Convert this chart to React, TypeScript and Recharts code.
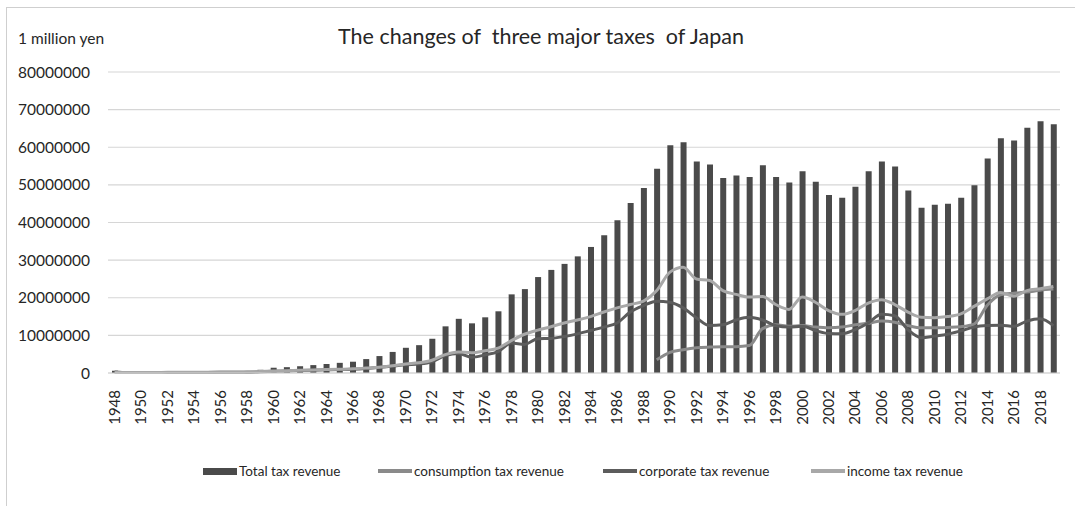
import {
  ComposedChart,
  Bar,
  Line,
  XAxis,
  YAxis,
  CartesianGrid,
} from "recharts";

const years = [
  1948, 1949, 1950, 1951, 1952, 1953, 1954, 1955, 1956, 1957, 1958, 1959,
  1960, 1961, 1962, 1963, 1964, 1965, 1966, 1967, 1968, 1969, 1970, 1971,
  1972, 1973, 1974, 1975, 1976, 1977, 1978, 1979, 1980, 1981, 1982, 1983,
  1984, 1985, 1986, 1987, 1988, 1989, 1990, 1991, 1992, 1993, 1994, 1995,
  1996, 1997, 1998, 1999, 2000, 2001, 2002, 2003, 2004, 2005, 2006, 2007,
  2008, 2009, 2010, 2011, 2012, 2013, 2014, 2015, 2016, 2017, 2018, 2019,
];

// 1 million yen
const totalTax = [
  600000, 150000, 150000, 180000, 200000, 220000, 250000, 250000, 280000, 320000, 350000, 850000,
  1400000, 1550000, 1800000, 2100000, 2400000, 2700000, 3000000, 3700000, 4500000, 5600000, 6700000, 7400000,
  9100000, 12400000, 14400000, 13200000, 14800000, 16400000, 20900000, 22300000, 25500000, 27400000, 29000000, 31000000,
  33500000, 36600000, 40600000, 45200000, 49200000, 54300000, 60500000, 61300000, 56200000, 55400000, 51800000, 52500000,
  52100000, 55200000, 52100000, 50600000, 53600000, 50800000, 47300000, 46600000, 49500000, 53600000, 56200000, 54900000,
  48500000, 43900000, 44700000, 45000000, 46600000, 49900000, 57000000, 62400000, 61800000, 65200000, 66900000, 66100000,
];

const consumptionTax = [
  null, null, null, null, null, null, null, null, null, null, null, null,
  null, null, null, null, null, null, null, null, null, null, null, null,
  null, null, null, null, null, null, null, null, null, null, null, null,
  null, null, null, null, null, 3500000, 5500000, 6200000, 6700000, 6900000, 7000000, 7000000,
  7300000, 11800000, 12800000, 12400000, 12600000, 12200000, 12000000, 12200000, 12800000, 13200000, 13800000, 13500000,
  12600000, 12000000, 12000000, 12100000, 12300000, 13000000, 18000000, 20800000, 21200000, 21500000, 22000000, 22300000,
];

const corporateTax = [
  300000, 150000, 150000, 150000, 150000, 150000, 150000, 150000, 180000, 200000, 200000, 300000,
  450000, 550000, 650000, 750000, 850000, 900000, 1000000, 1200000, 1500000, 1800000, 2200000, 2400000,
  3000000, 4600000, 5200000, 4200000, 4800000, 5700000, 8000000, 7600000, 9100000, 9200000, 9700000, 10400000,
  11300000, 12200000, 13300000, 16200000, 17900000, 19100000, 18800000, 17300000, 14700000, 12600000, 12800000, 14100000,
  14800000, 14100000, 12600000, 12200000, 12400000, 11300000, 10500000, 10400000, 11500000, 13300000, 15600000, 15200000,
  11500000, 9400000, 9800000, 10300000, 11200000, 12200000, 12600000, 12700000, 12400000, 13800000, 14400000, 12600000,
];

const incomeTax = [
  200000, 150000, 150000, 150000, 180000, 200000, 200000, 220000, 250000, 280000, 300000, 400000,
  500000, 600000, 700000, 800000, 900000, 1000000, 1100000, 1300000, 1500000, 1900000, 2400000, 2700000,
  3400000, 4900000, 5600000, 5400000, 5900000, 6600000, 8600000, 10300000, 11400000, 12300000, 13300000, 14100000,
  15000000, 16200000, 17300000, 18200000, 19100000, 21900000, 26800000, 28100000, 25000000, 24600000, 21900000, 20900000,
  20200000, 20300000, 18200000, 16900000, 20200000, 18800000, 16600000, 15600000, 16600000, 18600000, 19500000, 18200000,
  16200000, 14800000, 14700000, 15000000, 15700000, 17700000, 19700000, 21400000, 20400000, 21900000, 22400000, 23000000,
];

const yTicks = [0, 10000000, 20000000, 30000000, 40000000, 50000000, 60000000, 70000000, 80000000];

const data = years.map((year, i) => ({
  year,
  total: totalTax[i],
  consumption: consumptionTax[i],
  corporate: corporateTax[i],
  income: incomeTax[i],
}));

const FONT = "Lato, 'Open Sans', sans-serif";
const TEXT = "#262626";
const BAR = "#4a4a4a";
const CONSUMPTION = "#8a8a8a";
const CORPORATE = "#5c5c5c";
const INCOME = "#a8a8a8";

const YearTick = (props: any) => {
  const { x, y, payload } = props;
  return (
    <text
      x={x}
      y={y + 9}
      transform={`rotate(-90, ${x}, ${y + 9})`}
      textAnchor="end"
      dy="0.36em"
      fontSize={15}
      fontFamily={FONT}
      fill={TEXT}
    >
      {payload.value}
    </text>
  );
};

const legendItems = [
  { label: "Total tax revenue", color: BAR, kind: "bar", left: 203 },
  { label: "consumption tax revenue", color: CONSUMPTION, kind: "line", left: 378 },
  { label: "corporate tax revenue", color: CORPORATE, kind: "line", left: 603 },
  { label: "income tax revenue", color: INCOME, kind: "line", left: 811 },
];

export default function App() {
  return (
    <div
      style={{
        position: "absolute",
        left: 0,
        top: 0,
        width: 1075,
        height: 506,
        background: "#fff",
        fontFamily: FONT,
        color: TEXT,
      }}
    >
      <div
        style={{
          position: "absolute",
          left: 6,
          top: 7,
          width: 1069,
          height: 499,
          borderLeft: "1px solid #cfcfcf",
          borderTop: "1px solid #cfcfcf",
        }}
      />
      <div style={{ position: "absolute", left: 18, top: 29, fontSize: 15.5 }}>
        1 million yen
      </div>
      <div
        style={{
          position: "absolute",
          left: 541,
          top: 23,
          transform: "translateX(-50%)",
          fontSize: 21.5,
          whiteSpace: "pre",
        }}
      >
        {"The changes of  three major taxes  of Japan"}
      </div>

      <ComposedChart
        width={1075}
        height={506}
        data={data}
        margin={{ top: 72, right: 15, left: 8, bottom: 73 }}
        barCategoryGap={0}
        style={{ position: "absolute", left: 0, top: 0 }}
      >
        <CartesianGrid vertical={false} stroke="#d6d6d6" strokeWidth={1.2} />
        <XAxis
          dataKey="year"
          interval={1}
          tickLine={false}
          axisLine={{ stroke: "#d6d6d6", strokeWidth: 1.2 }}
          tick={<YearTick />}
          height={60}
        />
        <YAxis
          domain={[0, 80000000]}
          ticks={yTicks}
          tickLine={false}
          axisLine={false}
          width={100}
          tickMargin={12}
          tick={{ fontSize: 15.5, fill: TEXT, fontFamily: FONT }}
        />
        <Bar dataKey="total" fill={BAR} barSize={6} isAnimationActive={false} />
        <Line
          dataKey="consumption"
          type="monotone"
          stroke={CONSUMPTION}
          strokeWidth={3}
          dot={false}
          isAnimationActive={false}
        />
        <Line
          dataKey="corporate"
          type="monotone"
          stroke={CORPORATE}
          strokeWidth={3}
          dot={false}
          isAnimationActive={false}
        />
        <Line
          dataKey="income"
          type="monotone"
          stroke={INCOME}
          strokeWidth={3}
          dot={false}
          isAnimationActive={false}
        />
      </ComposedChart>

      {legendItems.map((item) => (
        <div
          key={item.label}
          style={{
            position: "absolute",
            left: item.left,
            top: 462,
            display: "flex",
            alignItems: "center",
            fontSize: 13.5,
            height: 18,
            whiteSpace: "nowrap",
          }}
        >
          <div
            style={{
              width: 34,
              height: item.kind === "bar" ? 7 : 3.5,
              background: item.color,
              marginRight: 2,
            }}
          />
          <span>{item.label}</span>
        </div>
      ))}
    </div>
  );
}
